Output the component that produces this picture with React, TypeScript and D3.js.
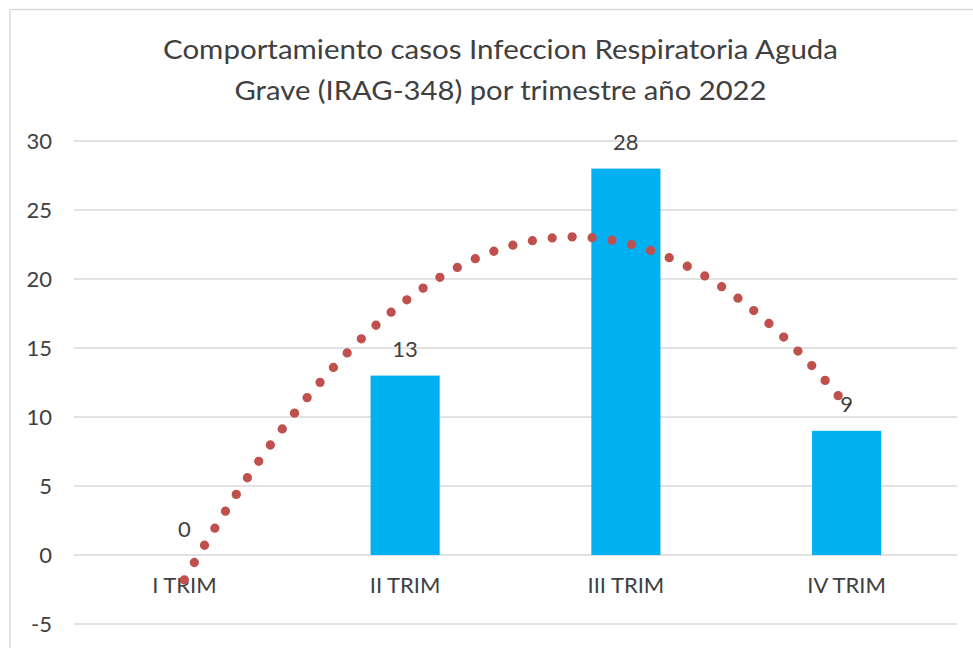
import React from "react";
import * as d3 from "d3";

const titleLines = [
  "Comportamiento casos Infeccion Respiratoria Aguda",
  "Grave (IRAG-348) por trimestre año 2022",
];
const titleWidths = [675, 532];
const categories = ["I TRIM", "II TRIM", "III TRIM", "IV TRIM"];
const values = [0, 13, 28, 9];
const yTicks = [-5, 0, 5, 10, 15, 20, 25, 30];

// least-squares quadratic fit (Excel polynomial trendline, order 2)
function polyFit2(xs: number[], ys: number[]) {
  const n = xs.length;
  const s = [0, 0, 0, 0, 0];
  const t = [0, 0, 0];
  for (let i = 0; i < n; i++) {
    for (let k = 0; k < 5; k++) s[k] += Math.pow(xs[i], k);
    for (let k = 0; k < 3; k++) t[k] += ys[i] * Math.pow(xs[i], k);
  }
  const A = [
    [s[0], s[1], s[2], t[0]],
    [s[1], s[2], s[3], t[1]],
    [s[2], s[3], s[4], t[2]],
  ];
  for (let c = 0; c < 3; c++) {
    for (let r = c + 1; r < 3; r++) {
      const f = A[r][c] / A[c][c];
      for (let k = c; k < 4; k++) A[r][k] -= f * A[c][k];
    }
  }
  const b = [0, 0, 0];
  for (let r = 2; r >= 0; r--) {
    let v = A[r][3];
    for (let k = r + 1; k < 3; k++) v -= A[r][k] * b[k];
    b[r] = v / A[r][r];
  }
  return (x: number) => b[0] + b[1] * x + b[2] * x * x;
}

export default function App() {
  const W = 973;
  const H = 648;
  const left = 74;
  const right = 957;
  const x = d3.scaleBand<string>().domain(categories).range([left, right]).padding(0);
  const y = d3.scaleLinear().domain([-5, 30]).range([624, 141]);
  const step = x.step();
  const barW = step * 0.313;
  const cx = (c: string) => (x(c) as number) + step / 2;

  const xs = categories.map((_, i) => i + 1);
  const fit = polyFit2(xs, values);
  const xIdx = d3
    .scaleLinear()
    .domain([1, categories.length])
    .range([cx(categories[0]), cx(categories[categories.length - 1])]);
  const samples = d3.range(1, categories.length + 0.0001, 0.01);
  const trendPath = d3
    .line<number>()
    .x((d) => xIdx(d))
    .y((d) => y(fit(d)))(samples) as string;

  const font = "Lato, 'Open Sans', sans-serif";
  const textColor = "#404040";

  return (
    <svg
      width={W}
      height={H}
      style={{ position: "absolute", left: 0, top: 0, background: "#fff" }}
      fontFamily={font}
    >
      <rect x={0} y={0} width={W} height={H} fill="#fff" />
      {/* chart border */}
      <line x1={10} y1={9.5} x2={W} y2={9.5} stroke="#D9D9D9" strokeWidth={1.5} />
      <line x1={10} y1={9.5} x2={10} y2={H} stroke="#D9D9D9" strokeWidth={1.5} />

      {/* title */}
      {titleLines.map((t, i) => (
        <text
          key={i}
          x={500.5}
          y={59 + i * 41}
          textAnchor="middle"
          fontSize={26.5}
          textLength={titleWidths[i]}
          lengthAdjust="spacingAndGlyphs"
          fill="#404040"
        >
          {t}
        </text>
      ))}

      {/* gridlines */}
      {yTicks.map((t) => (
        <line key={t} x1={left} x2={right} y1={y(t)} y2={y(t)} stroke="#D9D9D9" strokeWidth={1.3} />
      ))}
      {/* y tick labels */}
      {yTicks.map((t) => (
        <text key={"l" + t} x={52} y={y(t) + 8} textAnchor="end" fontSize={22} fill={textColor}>
          {t}
        </text>
      ))}

      {/* bars */}
      {categories.map((c, i) => (
        <rect
          key={c}
          x={cx(c) - barW / 2}
          width={barW}
          y={y(Math.max(values[i], 0))}
          height={Math.abs(y(values[i]) - y(0))}
          fill="#00B0F0"
        />
      ))}

      {/* category labels */}
      {categories.map((c) => (
        <text key={"c" + c} x={cx(c)} y={593} textAnchor="middle" fontSize={22} fill={textColor}>
          {c}
        </text>
      ))}

      {/* data labels */}
      {categories.map((c, i) => (
        <text key={"d" + c} x={cx(c)} y={y(values[i]) - 18.5} textAnchor="middle" fontSize={22} fill={textColor}>
          {values[i]}
        </text>
      ))}

      {/* trendline */}
      <path
        d={trendPath}
        fill="none"
        stroke="#C0504D"
        strokeWidth={9.3}
        strokeLinecap="round"
        strokeDasharray="0 20"
      />
    </svg>
  );
}
